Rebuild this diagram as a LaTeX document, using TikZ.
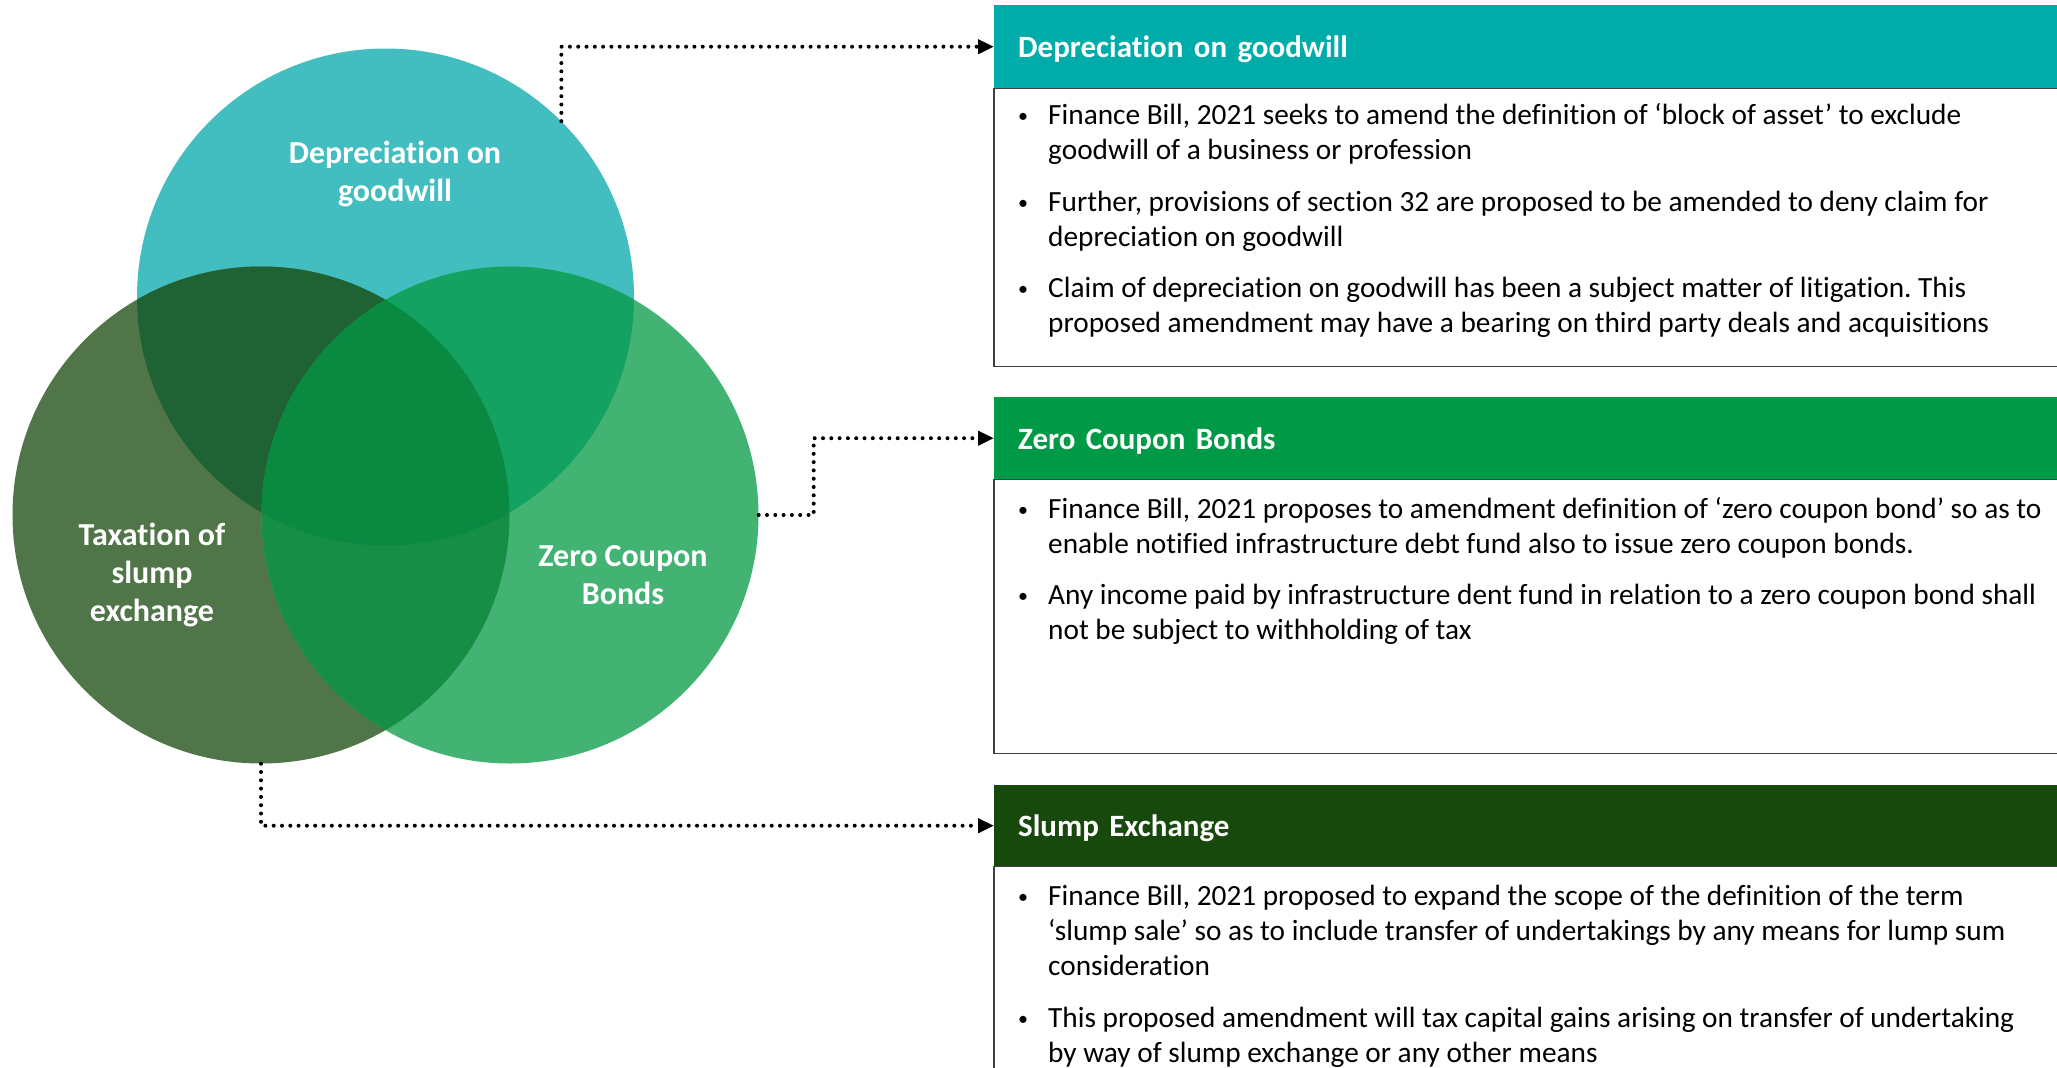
\documentclass[tikz,border=0pt]{standalone}
\usepackage{fontspec}
\setmainfont{Carlito}[Ligatures=NoCommon]
\frenchspacing
\usetikzlibrary{arrows.meta,positioning}

\definecolor{depc}{HTML}{42BEC0}
\definecolor{slumpc}{HTML}{4F7548}
\definecolor{zcbc}{HTML}{42B373}
\definecolor{depslumpc}{HTML}{1F6335}
\definecolor{depzcbc}{HTML}{14A262}
\definecolor{slumpzcbc}{HTML}{178E45}
\definecolor{allc}{HTML}{098A40}
\definecolor{headdep}{HTML}{00ACAA}
\definecolor{headzcb}{HTML}{009A46}
\definecolor{headslump}{HTML}{17480C}

\newcommand{\dotmark}{\makebox[30pt][l]{\raisebox{1.5pt}{\fontsize{20}{20}\selectfont\textbullet}}}

\tikzset{
  venn/.style={circle, minimum size=497pt, inner sep=0pt},
  vennlbl/.style={text=white, align=center, font=\bfseries\fontsize{32}{38}\selectfont},
  head/.style={anchor=north west, inner xsep=24pt, inner ysep=0pt, text width=1015pt,
    text depth=0pt, align=left, text=white, font=\bfseries\fontsize{31}{36}\selectfont},
  body/.style={anchor=north west, minimum width=1063pt, inner sep=0pt},
  frame/.style={draw=black!75, line width=1.3pt},
  item/.style={anchor=base west, inner sep=0pt, font=\fontsize{29.3}{35.4}\selectfont},
  link/.style={line width=4pt, line cap=round, dash pattern=on 0pt off 8.3pt,
    -{Triangle[length=16pt,width=14pt]}},
}

\begin{document}
\begin{tikzpicture}[x=1pt,y=-1pt]
\useasboundingbox (0,0) rectangle (2057,1068);

% the three sets
\node[venn] (dep) at (385.5,297) {};
\node[venn] (slump) at (261,515) {};
\node[venn] (zcb) at (510,515) {};

\fill[depc] (dep.center) circle[radius=248.5pt];
\fill[slumpc] (slump.center) circle[radius=248.5pt];
\fill[zcbc] (zcb.center) circle[radius=248.5pt];
\begin{scope}
  \clip (slump.center) circle[radius=248.5pt];
  \fill[slumpzcbc] (zcb.center) circle[radius=248.5pt];
\end{scope}
\begin{scope}
  \clip (dep.center) circle[radius=248.5pt];
  \fill[depslumpc] (slump.center) circle[radius=248.5pt];
  \fill[depzcbc] (zcb.center) circle[radius=248.5pt];
  \clip (slump.center) circle[radius=248.5pt];
  \fill[allc] (zcb.center) circle[radius=248.5pt];
\end{scope}

\node[vennlbl] (deplbl) at (395,174) {Depreciation on\\goodwill};
\node[vennlbl] (slumplbl) at (152,575) {Taxation of\\slump\\exchange};
\node[vennlbl] (zcblbl) at (623,575) {Zero Coupon\\Bonds};

% headers
\node[head, fill=headdep, minimum height=83pt] (head1) at (994,5) {Depreciation on goodwill};
\node[head, fill=headzcb, minimum height=82pt] (head2) at (994,397) {Zero Coupon Bonds};
\node[head, fill=headslump, minimum height=81pt] (head3) at (994,785) {Slump Exchange};

% boxes under the headers
\node[body, minimum height=278pt] (body1) at (head1.south west) {};
\node[body, minimum height=274pt] (body2) at (head2.south west) {};
\node[body, minimum height=230pt] (body3) at (head3.south west) {};
\draw[frame] (body1.north east) -- (body1.north west) -- (body1.south west) -- (body1.south east);
\draw[frame] (body2.north east) -- (body2.north west) -- (body2.south west) -- (body2.south east);
\draw[frame] (body3.north east) -- (body3.north west) -- (body3.south west);

% bullet points
\node[item] (dep1) at (1018,124) {\dotmark\parbox[t]{1000pt}{Finance Bill, 2021 seeks to amend the definition of ‘block of asset’ to exclude\\goodwill of a business or profession}};
\node[item] (dep2) at (1018,211) {\dotmark\parbox[t]{1000pt}{Further, provisions of section 32 are proposed to be amended to deny claim for\\depreciation on goodwill}};
\node[item] (dep3) at (1018,297) {\dotmark\parbox[t]{1000pt}{Claim of depreciation on goodwill has been a subject matter of litigation. This\\proposed amendment may have a bearing on third party deals and acquisitions}};

\node[item] (zcb1) at (1018,518) {\dotmark\parbox[t]{1000pt}{Finance Bill, 2021 proposes to amendment definition of ‘zero coupon bond’ so as to\\enable notified infrastructure debt fund also to issue zero coupon bonds.}};
\node[item] (zcb2) at (1018,604) {\dotmark\parbox[t]{1000pt}{Any income paid by infrastructure dent fund in relation to a zero coupon bond shall\\not be subject to withholding of tax}};

\node[item] (slump1) at (1018,905) {\dotmark\parbox[t]{1000pt}{Finance Bill, 2021 proposed to expand the scope of the definition of the term\\‘slump sale’ so as to include transfer of undertakings by any means for lump sum\\consideration}};
\node[item] (slump2) at (1018,1027) {\dotmark\parbox[t]{1000pt}{This proposed amendment will tax capital gains arising on transfer of undertaking\\by way of slump exchange or any other means}};

% links from the sets to their headers
\draw[link] (dep.45) |- (head1.west);
\draw[link] (zcb.east) -- ++(55,0) |- (head2.west);
\draw[link] (slump.south) |- (head3.west);
\end{tikzpicture}
\end{document}
